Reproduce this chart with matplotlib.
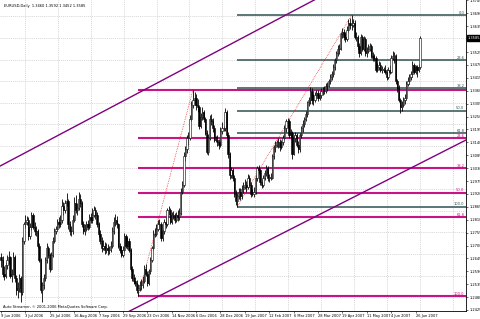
import matplotlib
matplotlib.use("Agg")
import matplotlib.pyplot as plt
import matplotlib.transforms as mtransforms
import numpy as np

# ---------------- data (prices in 1e-4 units above 1.0000, e.g. 2650 -> 1.2650) ----------------
symbol_title = "EURUSD,Daily"
copyright_text = "Auto Streamer, \u00a9 2001-2006 MetaQuotes Software Corp."

date_labels = ["9 Jun 2006", "3 Jul 2006", "25 Jul 2006", "16 Aug 2006", "7 Sep 2006",
               "29 Sep 2006", "23 Oct 2006", "14 Nov 2006", "6 Dec 2006", "28 Dec 2006",
               "19 Jan 2007", "12 Feb 2007", "6 Mar 2007", "28 Mar 2007", "19 Apr 2007",
               "11 May 2007", "4 Jun 2007", "26 Jun 2007"]
date_label_step = 16

price_labels = ["1.2425", "1.2480", "1.2535", "1.2590", "1.2645", "1.2700", "1.2755", "1.2810",
                "1.2865", "1.2920", "1.2975", "1.3030", "1.3085", "1.3140", "1.3195", "1.3250",
                "1.3305", "1.3360", "1.3415", "1.3470", "1.3525", "1.3580", "1.3635", "1.3690",
                "1.3745"]

opens = [2650, 2640, 2580, 2570, 2615, 2640, 2650, 2570, 2580, 2650,
         2560, 2510, 2520, 2560, 2500, 2720, 2790, 2800, 2810, 2740,
         2780, 2830, 2780, 2760, 2760, 2700, 2640, 2510, 2530, 2560,
         2640, 2690, 2660, 2600, 2660, 2720, 2760, 2770, 2800, 2790,
         2810, 2870, 2850, 2880, 2890, 2790, 2760, 2760, 2810, 2880,
         2850, 2860, 2900, 2880, 2790, 2760, 2770, 2790, 2780, 2820,
         2810, 2830, 2850, 2830, 2790, 2750, 2720, 2690, 2700, 2680,
         2690, 2680, 2680, 2700, 2760, 2800, 2810, 2790, 2700, 2680,
         2660, 2680, 2740, 2700, 2720, 2680, 2600, 2560, 2550, 2540,
         2510, 2520, 2530, 2530, 2550, 2600, 2580, 2540, 2590, 2640,
         2690, 2750, 2750, 2770, 2790, 2790, 2730, 2760, 2800, 2790,
         2850, 2850, 2800, 2830, 2830, 2810, 2830, 2820, 2840, 2930,
         2960, 3080, 3110, 3160, 3160, 3240, 3300, 3320, 3330, 3300,
         3290, 3210, 3250, 3270, 3240, 3180, 3100, 3160, 3240, 3230,
         3200, 3150, 3150, 3140, 3130, 3190, 3200, 3200, 3270, 3170,
         3090, 3000, 3020, 2990, 2920, 2890, 2910, 2930, 2910, 2940,
         2950, 2960, 2950, 2990, 2960, 2920, 2920, 2930, 2990, 3030,
         3020, 2970, 2960, 2990, 3010, 3030, 2990, 2990, 2990, 3080,
         3120, 3130, 3140, 3140, 3120, 3140, 3160, 3200, 3230, 3230,
         3170, 3180, 3090, 3160, 3170, 3130, 3110, 3170, 3200, 3220,
         3240, 3260, 3310, 3320, 3360, 3320, 3320, 3340, 3350, 3330,
         3340, 3360, 3360, 3360, 3380, 3380, 3400, 3420, 3430, 3460,
         3490, 3520, 3540, 3540, 3600, 3610, 3590, 3580, 3620, 3650,
         3640, 3640, 3650, 3590, 3590, 3550, 3520, 3590, 3540, 3580,
         3520, 3530, 3540, 3550, 3510, 3500, 3500, 3450, 3460, 3470,
         3450, 3450, 3450, 3440, 3420, 3450, 3440, 3500, 3510, 3510,
         3400, 3370, 3320, 3290, 3300, 3320, 3330, 3390, 3400, 3420,
         3430, 3470, 3440, 3460, 3450, 3460]

highs = [2668, 2655, 2612, 2630, 2660, 2676, 2655, 2600, 2672, 2660,
         2575, 2545, 2580, 2570, 2735, 2800, 2830, 2826, 2820, 2795,
         2845, 2838, 2800, 2785, 2770, 2712, 2648, 2545, 2580, 2652,
         2710, 2700, 2668, 2672, 2735, 2775, 2785, 2815, 2820, 2830,
         2900, 2885, 2895, 2925, 2898, 2805, 2785, 2830, 2905, 2915,
         2880, 2930, 2920, 2888, 2805, 2790, 2805, 2810, 2835, 2840,
         2860, 2870, 2865, 2842, 2800, 2768, 2735, 2722, 2715, 2712,
         2705, 2700, 2718, 2780, 2822, 2835, 2825, 2798, 2712, 2700,
         2700, 2755, 2750, 2738, 2730, 2688, 2612, 2580, 2565, 2552,
         2535, 2548, 2556, 2568, 2615, 2622, 2590, 2600, 2652, 2700,
         2765, 2775, 2790, 2808, 2812, 2800, 2772, 2815, 2820, 2862,
         2870, 2858, 2842, 2848, 2840, 2845, 2850, 2860, 2945, 2975,
         3100, 3125, 3170, 3182, 3255, 3315, 3365, 3355, 3345, 3325,
         3300, 3265, 3292, 3280, 3250, 3192, 3175, 3255, 3262, 3245,
         3212, 3165, 3172, 3155, 3205, 3225, 3210, 3288, 3280, 3182,
         3100, 3035, 3030, 3000, 2935, 2925, 2945, 2945, 2958, 2972,
         2985, 2975, 3005, 3000, 2970, 2940, 2948, 3000, 3038, 3045,
         3030, 2985, 3000, 3020, 3042, 3038, 3005, 3010, 3092, 3130,
         3145, 3150, 3158, 3155, 3150, 3170, 3215, 3240, 3242, 3238,
         3195, 3188, 3170, 3185, 3178, 3145, 3178, 3210, 3235, 3250,
         3272, 3318, 3332, 3375, 3372, 3345, 3355, 3365, 3362, 3358,
         3372, 3378, 3380, 3395, 3398, 3412, 3430, 3445, 3472, 3500,
         3530, 3555, 3560, 3612, 3628, 3622, 3605, 3635, 3668, 3672,
         3682, 3665, 3660, 3612, 3598, 3565, 3600, 3598, 3592, 3588,
         3545, 3560, 3565, 3558, 3525, 3518, 3508, 3478, 3488, 3482,
         3465, 3460, 3468, 3452, 3462, 3470, 3512, 3528, 3525, 3518,
         3412, 3385, 3330, 3315, 3335, 3345, 3400, 3418, 3432, 3445,
         3485, 3480, 3470, 3468, 3472, 3592]

lows = [2610, 2565, 2552, 2560, 2598, 2620, 2560, 2545, 2575, 2545,
        2490, 2478, 2500, 2457, 2490, 2705, 2775, 2788, 2722, 2728,
        2765, 2770, 2745, 2740, 2690, 2630, 2498, 2458, 2515, 2550,
        2625, 2645, 2585, 2595, 2650, 2710, 2748, 2760, 2775, 2780,
        2795, 2830, 2840, 2868, 2770, 2745, 2740, 2750, 2800, 2840,
        2830, 2850, 2865, 2780, 2748, 2745, 2760, 2765, 2772, 2795,
        2795, 2820, 2815, 2780, 2738, 2705, 2672, 2680, 2665, 2670,
        2660, 2662, 2672, 2690, 2750, 2785, 2775, 2690, 2668, 2650,
        2650, 2672, 2690, 2685, 2672, 2590, 2548, 2535, 2528, 2498,
        2484, 2505, 2512, 2520, 2540, 2568, 2528, 2532, 2580, 2630,
        2680, 2735, 2740, 2760, 2770, 2720, 2718, 2750, 2775, 2782,
        2832, 2790, 2790, 2812, 2795, 2800, 2805, 2810, 2830, 2920,
        2950, 3060, 3095, 3130, 3150, 3230, 3285, 3300, 3280, 3270,
        3195, 3200, 3235, 3225, 3170, 3090, 3088, 3150, 3215, 3185,
        3140, 3140, 3125, 3110, 3120, 3175, 3190, 3190, 3160, 3075,
        2985, 2988, 2975, 2905, 2872, 2866, 2900, 2895, 2900, 2925,
        2940, 2930, 2942, 2950, 2905, 2910, 2905, 2920, 2975, 3005,
        2958, 2945, 2950, 2980, 2995, 2975, 2972, 2978, 2985, 3070,
        3100, 3120, 3115, 3105, 3110, 3128, 3150, 3185, 3200, 3160,
        3155, 3070, 3085, 3140, 3118, 3095, 3100, 3160, 3185, 3205,
        3230, 3250, 3295, 3305, 3305, 3300, 3310, 3325, 3315, 3320,
        3330, 3340, 3345, 3350, 3360, 3375, 3390, 3405, 3420, 3450,
        3480, 3510, 3515, 3535, 3585, 3575, 3568, 3572, 3610, 3625,
        3620, 3630, 3580, 3570, 3540, 3505, 3512, 3530, 3530, 3510,
        3505, 3520, 3528, 3500, 3488, 3485, 3440, 3440, 3450, 3438,
        3435, 3440, 3430, 3405, 3412, 3430, 3435, 3490, 3480, 3390,
        3355, 3310, 3265, 3275, 3290, 3305, 3322, 3380, 3390, 3405,
        3420, 3432, 3430, 3418, 3440, 3452]

closes = [2640, 2580, 2570, 2615, 2640, 2650, 2570, 2580, 2650, 2560,
          2510, 2520, 2560, 2500, 2720, 2790, 2800, 2810, 2740, 2780,
          2830, 2780, 2760, 2760, 2700, 2640, 2510, 2530, 2560, 2640,
          2690, 2660, 2600, 2660, 2720, 2760, 2770, 2800, 2790, 2810,
          2870, 2850, 2880, 2890, 2790, 2760, 2760, 2810, 2880, 2850,
          2860, 2900, 2880, 2790, 2760, 2770, 2790, 2780, 2820, 2810,
          2830, 2850, 2830, 2790, 2750, 2720, 2690, 2700, 2680, 2690,
          2680, 2680, 2700, 2760, 2800, 2810, 2790, 2700, 2680, 2660,
          2680, 2740, 2700, 2720, 2680, 2600, 2560, 2550, 2540, 2510,
          2520, 2530, 2530, 2550, 2600, 2580, 2540, 2590, 2640, 2690,
          2750, 2750, 2770, 2790, 2790, 2730, 2760, 2800, 2790, 2850,
          2850, 2800, 2830, 2830, 2810, 2830, 2820, 2840, 2930, 2960,
          3080, 3110, 3160, 3160, 3240, 3300, 3320, 3330, 3300, 3290,
          3210, 3250, 3270, 3240, 3180, 3100, 3160, 3240, 3230, 3200,
          3150, 3150, 3140, 3130, 3190, 3200, 3200, 3270, 3170, 3090,
          3000, 3020, 2990, 2920, 2890, 2910, 2930, 2910, 2940, 2950,
          2960, 2950, 2990, 2960, 2920, 2920, 2930, 2990, 3030, 3020,
          2970, 2960, 2990, 3010, 3030, 2990, 2990, 2990, 3080, 3120,
          3130, 3140, 3140, 3120, 3140, 3160, 3200, 3230, 3230, 3170,
          3180, 3090, 3160, 3170, 3130, 3110, 3170, 3200, 3220, 3240,
          3260, 3310, 3320, 3360, 3320, 3320, 3340, 3350, 3330, 3340,
          3360, 3360, 3360, 3380, 3380, 3400, 3420, 3430, 3460, 3490,
          3520, 3540, 3540, 3600, 3610, 3590, 3580, 3620, 3650, 3640,
          3640, 3650, 3590, 3590, 3550, 3520, 3590, 3540, 3580, 3520,
          3530, 3540, 3550, 3510, 3500, 3500, 3450, 3460, 3470, 3450,
          3450, 3450, 3440, 3420, 3450, 3440, 3500, 3510, 3510, 3400,
          3370, 3320, 3290, 3300, 3320, 3330, 3390, 3400, 3420, 3430,
          3470, 3440, 3460, 3450, 3460, 3585]

# Fibonacci retracement anchors (bar index of low, bar index of high)
fib_magenta_bars = [90, 126]
fib_dark_bars = [155, 230]
fib_levels = [0.0, 23.6, 38.2, 50.0, 61.8, 100.0]

# trend channel anchors: (bar, price)
channel_upper = [(0, 1.3041), (200, 1.3728)]
channel_lower = [(90, 1.2439), (300, 1.3133)]

# ---------------- drawing ----------------
W, H = 481, 319
PX_PER_BAR = 1.524
PX_PER_PRICE = 2345.0
fig = plt.figure(figsize=(W / 100, H / 100), dpi=100, facecolor="white")
ax = fig.add_axes([0, 8 / H, 466 / W, 311 / H])
ax.set_facecolor("white")

def to_price(v):
    return 1.0 + np.asarray(v, dtype=float) / 1e4

o, h, l, c = to_price(opens), to_price(highs), to_price(lows), to_price(closes)
x = np.arange(len(c))

x_min = (0 - 1) / PX_PER_BAR
x_max = (466 - 1) / PX_PER_BAR
y_top = 1.2425 + 310 / PX_PER_PRICE
y_bot = 1.2425 - 1 / PX_PER_PRICE
ax.set_xlim(x_min, x_max)
ax.set_ylim(y_bot, y_top)

# grid (dotted, MT4 style)
grid_col = "#c8c8c8"
for k in range(14):
    gx = (25 + 32.9 * k - 1) / PX_PER_BAR
    ax.axvline(gx, color=grid_col, lw=0.5, ls=(0, (1.5, 1.5)), zorder=0)
for k in range(15):
    gy = 1.2425 + (310 - (16.5 + 21.6 * k)) / PX_PER_PRICE
    ax.axhline(gy, color=grid_col, lw=0.5, ls=(0, (1.5, 1.5)), zorder=0)

# Fibonacci levels
def draw_fib(bars, color, lw, labels_skip=()):
    lo = l[bars[0]]
    hi = h[bars[1]]
    for lev in fib_levels:
        val = hi - (hi - lo) * lev / 100.0
        ax.plot([bars[0], x_max], [val, val], color=color, lw=lw, zorder=2, solid_capstyle="butt")
        if lev not in labels_skip:
            ax.text(x_max - 1.2, val + 0.0002, f"{lev:.1f}", color=color, fontsize=2.6,
                    ha="right", va="bottom", zorder=5)
    ax.plot([bars[0], bars[1]], [lo, hi], color="red", lw=0.5, ls=(0, (1, 1.5)), zorder=2)

draw_fib(fib_dark_bars, "#2f4f4f", 1.1)
draw_fib(fib_magenta_bars, "#c71585", 1.5, labels_skip=(0.0,))

# trend channel
for (b0, p0), (b1, p1) in (channel_upper, channel_lower):
    slope = (p1 - p0) / (b1 - b0)
    ax.plot([x_min, x_max], [p0 + slope * (x_min - b0), p0 + slope * (x_max - b0)],
            color="#800080", lw=1.0, zorder=3)

# candles
ax.vlines(x, l, h, color="black", lw=0.6, zorder=4)
up = c >= o
body_lo = np.minimum(o, c)
body_h = np.maximum(np.abs(c - o), 0.00008)
ax.bar(x[up], body_h[up], bottom=body_lo[up], width=0.85, facecolor="white",
       edgecolor="black", linewidth=0.4, zorder=5)
ax.bar(x[~up], body_h[~up], bottom=body_lo[~up], width=0.85, facecolor="black",
       edgecolor="black", linewidth=0.4, zorder=5)

# axes styling
for side in ("top", "left"):
    ax.spines[side].set_visible(False)
for side in ("right", "bottom"):
    ax.spines[side].set_color("black")
    ax.spines[side].set_linewidth(0.6)
ax.yaxis.tick_right()
ax.set_yticks([float(s) for s in price_labels])
# the current-price box covers the tick label nearest to the last close
box_val = c[-1]
shown_labels = [s if abs(float(s) - box_val) > 0.0025 else "" for s in price_labels]
ax.set_yticklabels(shown_labels)
ax.set_xticks([k * date_label_step for k in range(len(date_labels))])
ax.set_xticklabels(date_labels)
ax.tick_params(axis="both", labelsize=2.6, length=1.5, width=0.4, pad=1, colors="black")
for lbl in ax.get_xticklabels():
    lbl.set_ha("left")

# current price box
ax.text(1.004, box_val, f"{box_val:.4f}",
        transform=mtransforms.blended_transform_factory(ax.transAxes, ax.transData),
        fontsize=2.6, color="white", ha="left", va="center", zorder=10, clip_on=False,
        bbox=dict(boxstyle="square,pad=0.25", fc="black", ec="black"))

# header & copyright
fig.text(4 / W, 1 - 6 / H, f"{symbol_title}  {o[-1]:.4f} {h[-1]:.4f} {l[-1]:.4f} {c[-1]:.4f}",
         fontsize=2.6, color="black", ha="left", va="center")
ax.text(0.006, 0.008, copyright_text, transform=ax.transAxes, fontsize=2.6,
        color="black", ha="left", va="bottom", zorder=10)

fig.savefig("out.png", dpi=100, facecolor="white")
